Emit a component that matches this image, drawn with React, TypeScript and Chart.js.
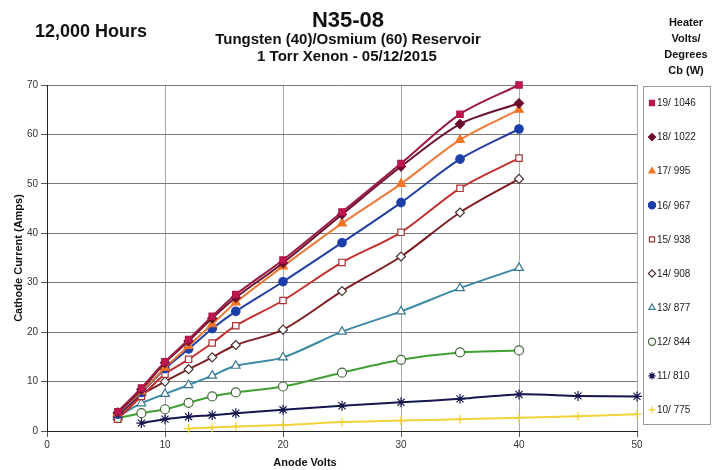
import React, { useEffect, useRef } from 'react';
import { Chart, registerables } from 'chart.js';
import { drawPoint } from 'chart.js/helpers';

Chart.register(...registerables);

// ---- data ----
const xMain = [6, 8, 10, 12, 14, 16, 20, 25, 30, 35, 40];
const x11 = [8, 10, 12, 14, 16, 20, 25, 30, 35, 40, 45, 50];
const x10 = [12, 14, 16, 20, 25, 30, 35, 40, 45, 50];

const s19 = [3.9, 8.7, 14.0, 18.5, 23.2, 27.6, 34.6, 44.3, 54.1, 64.1, 70.0];
const s18 = [3.7, 8.4, 13.8, 18.2, 22.8, 27.0, 34.0, 43.8, 53.5, 62.1, 66.3];
const s17 = [3.6, 8.0, 12.8, 17.2, 21.6, 26.0, 33.3, 42.0, 50.0, 58.9, 65.0];
const s16 = [3.4, 7.8, 12.6, 16.6, 20.7, 24.2, 30.2, 38.1, 46.2, 55.0, 61.1];
const s15 = [2.4, 7.0, 11.5, 14.5, 17.8, 21.3, 26.4, 34.1, 40.2, 49.1, 55.2];
const s14 = [3.0, 7.3, 10.0, 12.5, 14.9, 17.4, 20.5, 28.3, 35.3, 44.2, 51.0];
const s13 = [3.0, 5.6, 7.5, 9.3, 11.2, 13.2, 14.9, 20.1, 24.2, 28.9, 33.0];
const s12 = [2.6, 3.6, 4.4, 5.7, 7.0, 7.8, 9.0, 11.8, 14.4, 15.9, 16.3];
const s11 = [1.6, 2.4, 2.9, 3.2, 3.6, 4.3, 5.1, 5.8, 6.5, 7.4, 7.1, 7.0];
const s10 = [0.5, 0.7, 0.9, 1.2, 1.8, 2.1, 2.4, 2.7, 3.0, 3.4];

const seriesLabels = ['19/ 1046', '18/ 1022', '17/ 995', '16/ 967', '15/ 938', '14/ 908', '13/ 877', '12/ 844', '11/ 810', '10/ 775'];
const xTickValues = [0, 10, 20, 30, 40, 50];
const yTickValues = [0, 10, 20, 30, 40, 50, 60, 70];

const titleMain = 'N35-08';
const titleSub1 = 'Tungsten (40)/Osmium (60) Reservoir';
const titleSub2 = '1 Torr Xenon - 05/12/2015';
const leftNote = '12,000 Hours';
const legendTitle = ['Heater', 'Volts/', 'Degrees', 'Cb (W)'];
const xTitle = 'Anode Volts';
const yTitle = 'Cathode Current (Amps)';

const FONT = '"Liberation Sans", Arial, sans-serif';

const pts = (xs: number[], ys: number[]) => xs.map((x, i) => ({ x, y: ys[i] }));

type Style = { line: string; fill: string; border: string; style: string; r: number };
const styles: Style[] = [
  { line: '#9a1a42', fill: '#c0174f', border: '#b0164a', style: 'rect', r: 4.5 },
  { line: '#6a1430', fill: '#6a0f2e', border: '#6a0f2e', style: 'rectRot', r: 4.5 },
  { line: '#ec7a3a', fill: '#f07526', border: '#f07526', style: 'triangle', r: 5 },
  { line: '#2340a0', fill: '#1b3ea8', border: '#1b3ea8', style: 'circle', r: 4.2 },
  { line: '#c23030', fill: '#ffffff', border: '#a83232', style: 'rect', r: 4.5 },
  { line: '#7c1e22', fill: '#ffffff', border: '#4a3030', style: 'rectRot', r: 4.5 },
  { line: '#3a8aa6', fill: '#ffffff', border: '#3a7890', style: 'triangle', r: 5 },
  { line: '#3ea030', fill: '#ffffff', border: '#44683a', style: 'circle', r: 4.5 },
  { line: '#15154f', fill: '#15154f', border: '#15154f', style: 'star', r: 5 },
  { line: '#f2d23a', fill: '#f2d23a', border: '#f0cf30', style: 'cross', r: 4.5 },
];

const seriesData = [
  pts(xMain, s19), pts(xMain, s18), pts(xMain, s17), pts(xMain, s16), pts(xMain, s15),
  pts(xMain, s14), pts(xMain, s13), pts(xMain, s12), pts(x11, s11), pts(x10, s10),
];

const textPlugin = {
  id: 'textPlugin',
  afterDraw(chart: any) {
    const ctx = chart.ctx as CanvasRenderingContext2D;
    ctx.save();
    ctx.fillStyle = '#111';
    ctx.textAlign = 'center';
    ctx.textBaseline = 'alphabetic';
    ctx.font = `bold 22px ${FONT}`;
    ctx.fillText(titleMain, 348, 27);
    ctx.font = `bold 15px ${FONT}`;
    ctx.fillText(titleSub1, 348, 44);
    ctx.fillText(titleSub2, 347, 61);
    ctx.font = `bold 18px ${FONT}`;
    ctx.textAlign = 'left';
    ctx.fillText(leftNote, 35, 37);
    ctx.textAlign = 'center';
    ctx.font = `bold 11px ${FONT}`;
    legendTitle.forEach((t, i) => ctx.fillText(t, 686, 26 + i * 16));
    ctx.fillText(xTitle, 305, 466);
    ctx.save();
    ctx.translate(22, 258);
    ctx.rotate(-Math.PI / 2);
    ctx.fillText(yTitle, 0, 0);
    ctx.restore();

    // legend box
    ctx.strokeStyle = '#9a9a9a';
    ctx.lineWidth = 1;
    ctx.strokeRect(643.5, 86.5, 67, 338);
    ctx.font = `10px ${FONT}`;
    ctx.textAlign = 'left';
    ctx.textBaseline = 'middle';
    chart.data.datasets.forEach((ds: any, i: number) => {
      const y = 103 + i * 34.1;
      const x = 652;
      ctx.fillStyle = ds.pointBackgroundColor;
      ctx.strokeStyle = ds.pointBorderColor;
      ctx.lineWidth = ds.pointBorderWidth;
      drawPoint(ctx, { pointStyle: ds.pointStyle, radius: 3.6, rotation: 0, borderWidth: ds.pointBorderWidth }, x, y);
      ctx.fillStyle = '#222';
      ctx.fillText(ds.label, 657, y + 0.5);
    });
    ctx.restore();
  },
};

export default function App() {
  const ref = useRef<HTMLCanvasElement | null>(null);
  useEffect(() => {
    document.body.style.margin = '0';
    const canvas = ref.current!;
    const chart = new Chart(canvas, {
      type: 'line',
      data: {
        datasets: seriesData.map((d, i) => ({
          label: seriesLabels[i],
          data: d,
          borderColor: styles[i].line,
          backgroundColor: styles[i].line,
          borderWidth: 2,
          tension: 0.3,
          pointStyle: styles[i].style as any,
          pointRadius: styles[i].r,
          pointBackgroundColor: styles[i].fill,
          pointBorderColor: styles[i].border,
          pointBorderWidth: 1.2,
          fill: false,
          clip: false as any,
        })),
      },
      plugins: [textPlugin],
      options: {
        animation: false,
        responsive: false,
        devicePixelRatio: 1,
        layout: { padding: { left: 0, top: 85, right: 75, bottom: 19 } },
        plugins: { legend: { display: false }, tooltip: { enabled: false }, title: { display: false } },
        scales: {
          x: {
            type: 'linear',
            min: 0,
            max: 50,
            afterFit: (s: any) => { s.height = 20; },
            afterBuildTicks: (s: any) => { s.ticks = xTickValues.map((v) => ({ value: v })); },
            ticks: { font: { family: FONT, size: 10 }, color: '#333', padding: 2, maxRotation: 0 },
            grid: { color: '#a8a8a8', lineWidth: 1, tickLength: 6, tickColor: '#555' },
            border: { color: '#222', width: 1 },
          },
          y: {
            type: 'linear',
            min: 0,
            max: 70,
            afterFit: (s: any) => { s.width = 47; },
            afterBuildTicks: (s: any) => { s.ticks = yTickValues.map((v) => ({ value: v })); },
            ticks: { font: { family: FONT, size: 10 }, color: '#333', padding: 3 },
            grid: { color: '#7a7a7a', lineWidth: 1, tickLength: 6, tickColor: '#555' },
            border: { color: '#222', width: 1 },
          },
        },
      },
    });
    return () => chart.destroy();
  }, []);
  return <canvas ref={ref} width={712} height={470} style={{ display: 'block' }} />;
}
